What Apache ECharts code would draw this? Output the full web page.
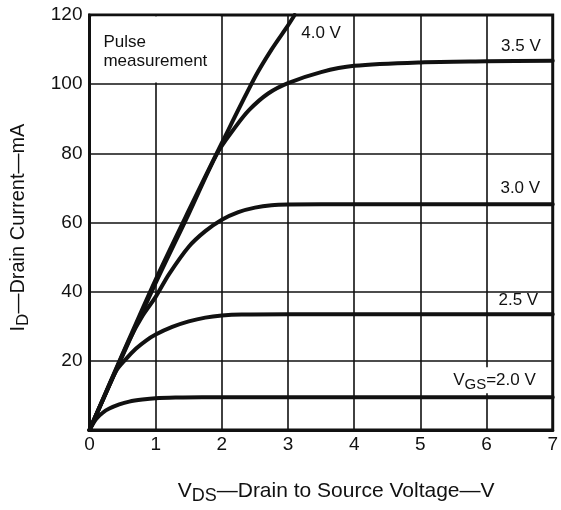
<!DOCTYPE html>
<html>
<head>
<meta charset="utf-8">
<script src="https://cdn.jsdelivr.net/npm/echarts@6/dist/echarts.min.js"></script>
<style>
html,body{margin:0;padding:0;background:#fff;}
#chart{width:561px;height:510px;}
</style>
</head>
<body>
<div id="chart"></div>
<script>
// ---- data ----
const xTicks = [0, 1, 2, 3, 4, 5, 6, 7];
const yTicks = [0, 20, 40, 60, 80, 100, 120];

const vgs20X = [0, 0.1, 0.2, 0.3, 0.45, 0.6, 0.8, 1.0, 1.3, 1.7, 2.5, 4, 7];
const vgs20Y = [0, 3.2, 5.0, 6.2, 7.4, 8.2, 8.8, 9.2, 9.4, 9.5, 9.5, 9.5, 9.5];

const vgs25X = [0, 0.2, 0.4, 0.55, 0.7, 0.85, 1.0, 1.25, 1.5, 1.75, 2.0, 2.3, 3, 7];
const vgs25Y = [0, 8.6, 17, 20.5, 23.5, 25.8, 27.6, 29.8, 31.4, 32.5, 33.1, 33.4, 33.5, 33.5];

const vgs30X = [0, 0.3, 0.6, 0.8, 1.0, 1.2, 1.5, 1.75, 2.0, 2.25, 2.5, 2.75, 3, 4, 7];
const vgs30Y = [0, 13, 26, 33, 38.5, 45, 53, 57.5, 60.8, 63, 64.3, 65, 65.2, 65.3, 65.3];

const vgs35X = [0, 0.5, 1.0, 1.5, 1.93, 2.2, 2.41, 2.7, 3.0, 3.5, 4, 5, 6, 7];
const vgs35Y = [0, 21.5, 42.5, 62.5, 80, 87.5, 92.5, 97.3, 100.3, 103.5, 105.3, 106.3, 106.6, 106.8];

const vgs40X = [0, 0.5, 1.0, 1.5, 2.0, 2.5, 2.75, 3.0, 3.1];
const vgs40Y = [0, 22, 43.5, 63.5, 83, 102, 110, 117, 120];

// curve label anchor points [VDS, ID]
const labelNames = ['4.0 V', '3.5 V', '3.0 V', '2.5 V', 'VGS=2.0 V'];
const labelAt = [[3.5, 114.8], [6.52, 111], [6.51, 70], [6.48, 37.5], [6.12, 14.4]];
const noteText = ['Pulse', 'measurement'];
const noteAt = [0.21, 109.4];
const noteBox = [[0.03, 100.45], [1.98, 119.55]];

// ---- chart ----
const FONT = 'Liberation Sans';
const INK = '#111';
const zip = (xs, ys) => xs.map((x, i) => [x, ys[i]]);

function labelPoint(idx, extra) {
  return {
    coord: labelAt[idx],
    symbol: 'circle',
    symbolSize: 0,
    label: Object.assign({
      show: true,
      position: 'inside',
      formatter: labelNames[idx],
      color: INK,
      fontSize: 17,
      fontFamily: FONT
    }, extra || {})
  };
}

function curve(name, xs, ys, marks) {
  const s = {
    name: name,
    type: 'line',
    data: zip(xs, ys),
    smooth: 0.3,
    showSymbol: false,
    symbol: 'none',
    clip: true,
    lineStyle: { color: INK, width: 4, cap: 'round', join: 'round' },
    z: 3
  };
  if (marks) s.markPoint = { silent: true, animation: false, data: marks };
  return s;
}

const chart = echarts.init(document.getElementById('chart'), null, { renderer: 'canvas' });

const s20 = curve('2.0 V', vgs20X, vgs20Y, [labelPoint(4, {
  formatter: '{v|V}{s|GS}{v|=2.0 V}',
  backgroundColor: '#fff',
  padding: [1, 2],
  rich: {
    v: { fontSize: 17, fontFamily: FONT, color: INK },
    s: { fontSize: 15, fontFamily: FONT, color: INK, padding: [9, 0, 0, 0] }
  }
})]);
s20.markArea = {
  silent: true,
  animation: false,
  itemStyle: { color: '#fff', opacity: 1 },
  data: [[{ coord: noteBox[0] }, { coord: noteBox[1] }]],
  z: 2
};
s20.markPoint.data.push({
  coord: noteAt,
  symbol: 'circle',
  symbolSize: 0,
  label: {
    show: true,
    position: 'inside',
    align: 'left',
    verticalAlign: 'middle',
    formatter: noteText.join('\n'),
    color: INK,
    fontSize: 17,
    lineHeight: 19,
    fontFamily: FONT
  }
});

const option = {
  animation: false,
  backgroundColor: '#fff',
  grid: {
    left: 89, top: 15, right: 4, bottom: 77,
    show: true, borderColor: INK, borderWidth: 3, backgroundColor: '#fff'
  },
  xAxis: {
    type: 'value',
    min: xTicks[0], max: xTicks[xTicks.length - 1], interval: 1,
    axisLine: { show: true, lineStyle: { color: INK, width: 3 } },
    axisTick: { show: false },
    splitLine: { show: true, lineStyle: { color: INK, width: 1.6 } },
    axisLabel: { color: INK, fontSize: 19, fontFamily: FONT, margin: 5 },
    name: '{a|V}{s|DS}{a|—Drain to Source Voltage—V}',
    nameLocation: 'middle',
    nameGap: 47,
    nameTextStyle: {
      padding: [0, 0, 0, 30],
      rich: {
        a: { fontSize: 21, fontFamily: FONT, color: INK },
        s: { fontSize: 18, fontFamily: FONT, color: INK, padding: [10, 0, 0, 0] }
      }
    }
  },
  yAxis: {
    type: 'value',
    min: yTicks[0], max: yTicks[yTicks.length - 1], interval: 20,
    axisLine: { show: true, lineStyle: { color: INK, width: 3 } },
    axisTick: { show: false },
    splitLine: { show: true, lineStyle: { color: INK, width: 1.6 } },
    axisLabel: {
      color: INK, fontSize: 19, fontFamily: FONT, margin: 7,
      formatter: v => (v === 0 ? '' : String(v))
    },
    name: '{a|I}{s|D}{a|—Drain Current—mA}',
    nameLocation: 'middle',
    nameRotate: 90,
    nameGap: 58,
    nameTextStyle: {
      padding: [0, 10, 0, 0],
      rich: {
        a: { fontSize: 20, fontFamily: FONT, color: INK },
        s: { fontSize: 17, fontFamily: FONT, color: INK, padding: [10, 0, 0, 0] }
      }
    }
  },
  series: [
    s20,
    curve('2.5 V', vgs25X, vgs25Y, [labelPoint(3)]),
    curve('3.0 V', vgs30X, vgs30Y, [labelPoint(2)]),
    curve('3.5 V', vgs35X, vgs35Y, [labelPoint(1)]),
    curve('4.0 V', vgs40X, vgs40Y, [labelPoint(0)])
  ]
};

chart.setOption(option);
</script>
</body>
</html>
